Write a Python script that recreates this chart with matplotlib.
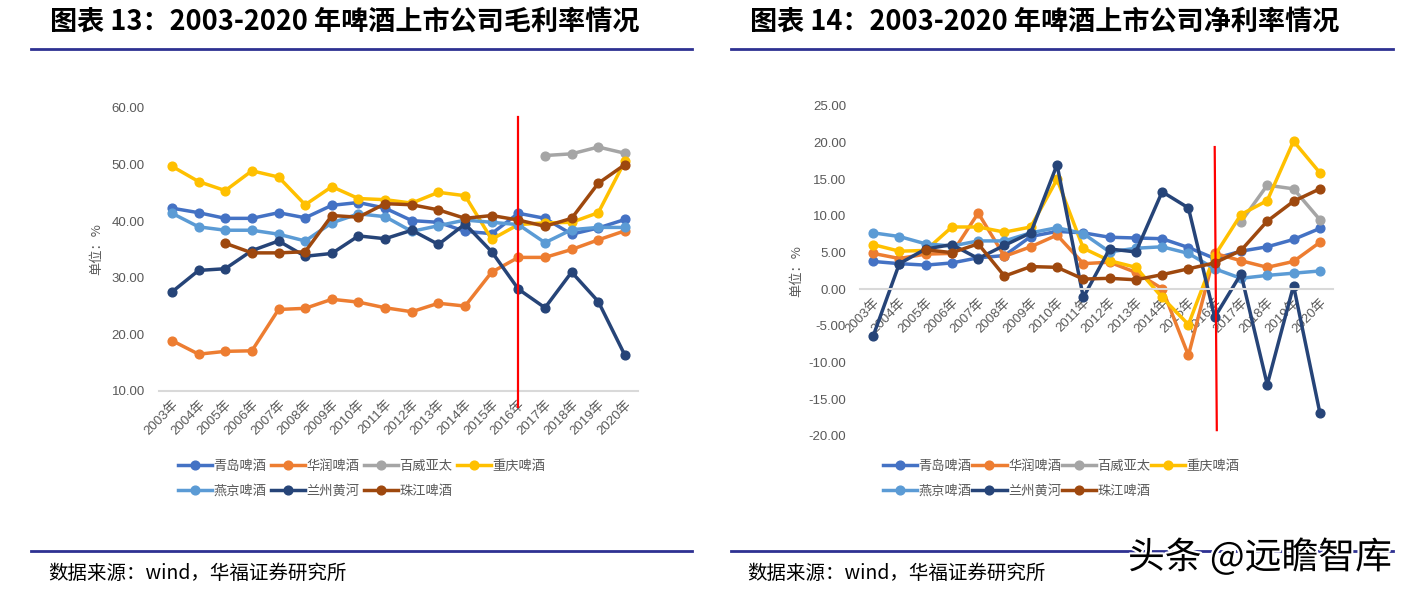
import numpy as np
import matplotlib
matplotlib.use("Agg")
from matplotlib import pyplot as plt
from matplotlib.lines import Line2D
import matplotlib.patheffects as pe

plt.rcParams['font.family'] = ['Liberation Sans', 'Noto Sans CJK SC']

years = [str(y) + "年" for y in range(2003, 2021)]
names = ["青岛啤酒", "华润啤酒", "百威亚太", "重庆啤酒", "燕京啤酒", "兰州黄河", "珠江啤酒"]
colors = ["#4472C4", "#ED7D31", "#A5A5A5", "#FFC000", "#5B9BD5", "#264478", "#9E480E"]
nan = np.nan

# gross margin (%)
gross_qingdao = [42.3, 41.5, 40.5, 40.5, 41.5, 40.6, 42.8, 43.3, 42.3, 40.1, 39.8, 38.2, 37.8, 41.4, 40.5, 37.7, 38.8, 40.3]
gross_huarun = [18.9, 16.5, 17.0, 17.1, 24.4, 24.6, 26.2, 25.7, 24.7, 24.0, 25.5, 25.0, 31.0, 33.6, 33.6, 35.0, 36.7, 38.3]
gross_baiwei = [nan] * 14 + [51.6, 51.9, 53.1, 52.0]
gross_chongqing = [49.7, 47.0, 45.4, 48.9, 47.8, 42.9, 46.1, 44.0, 43.8, 43.2, 45.1, 44.5, 36.8, 39.4, 39.7, 39.8, 41.5, 50.6]
gross_yanjing = [41.4, 39.0, 38.4, 38.4, 37.7, 36.5, 39.7, 41.3, 40.8, 38.2, 39.2, 40.2, 39.8, 39.4, 36.2, 38.5, 38.9, 38.9]
gross_lanzhou = [27.5, 31.3, 31.6, 34.8, 36.5, 33.8, 34.3, 37.4, 36.9, 38.4, 35.9, 39.5, 34.6, 28.0, 24.7, 31.0, 25.8, 16.3]
gross_zhujiang = [nan, nan, 36.1, 34.4, 34.4, 34.6, 41.0, 40.7, 43.1, 42.9, 42.0, 40.5, 41.0, 40.2, 39.1, 40.5, 46.7, 50.0]

# net margin (%)
net_qingdao = [3.8, 3.5, 3.3, 3.6, 4.3, 4.6, 7.2, 7.9, 7.7, 7.1, 7.0, 6.9, 5.7, 4.2, 5.2, 5.8, 6.8, 8.3]
net_huarun = [4.9, 4.2, 4.8, 4.9, 10.4, 4.5, 5.8, 7.4, 3.5, 3.7, 2.3, 0.1, -9.0, 4.9, 3.9, 3.0, 3.8, 6.4]
net_baiwei = [nan] * 14 + [9.2, 14.2, 13.7, 9.5]
net_chongqing = [6.1, 5.2, 5.3, 8.5, 8.5, 7.8, 8.5, 15.0, 5.6, 3.9, 3.0, -1.1, -4.8, 4.6, 10.2, 12.1, 20.2, 15.9]
net_yanjing = [7.7, 7.2, 6.2, 5.9, 6.6, 6.6, 7.7, 8.4, 7.6, 5.1, 5.6, 5.8, 4.9, 2.8, 1.5, 1.9, 2.2, 2.5]
net_lanzhou = [-6.4, 3.5, 5.5, 6.1, 4.2, 6.0, 7.7, 17.0, -1.1, 5.5, 5.1, 13.3, 11.1, -3.8, 2.1, -13.0, 0.5, -16.8]
net_zhujiang = [nan, nan, 5.4, 5.0, 6.2, 1.8, 3.1, 3.0, 1.4, 1.5, 1.3, 2.0, 2.8, 3.6, 5.3, 9.3, 12.0, 13.7]

gross = [gross_qingdao, gross_huarun, gross_baiwei, gross_chongqing, gross_yanjing, gross_lanzhou, gross_zhujiang]
net = [net_qingdao, net_huarun, net_baiwei, net_chongqing, net_yanjing, net_lanzhou, net_zhujiang]

gray_txt = "#595959"
rule_color = "#2E3192"

fig = plt.figure(figsize=(14.04, 5.94), dpi=100)


def draw_chart(ax, series, ylim, yticks, base):
    x = np.arange(len(years))
    for s in ['top', 'right', 'left']:
        ax.spines[s].set_visible(False)
    ax.spines['bottom'].set_position(('data', base))   # must come before tick labels
    ax.spines['bottom'].set_color("#D9D9D9")
    ax.spines['bottom'].set_linewidth(1.5)
    for vals, c in zip(series, colors):
        ax.plot(x, vals, color=c, lw=2.5, marker='o', ms=6.3, solid_capstyle='round')
    ax.set_xlim(-0.5, len(years) - 0.5)
    ax.set_ylim(*ylim)
    ax.set_yticks(yticks)
    ax.set_yticklabels(["%.2f" % v for v in yticks], fontsize=9.5, color=gray_txt)
    ax.set_xticks(x)
    ax.set_xticklabels(years, rotation=45, ha='right', va='top', rotation_mode='anchor',
                       fontsize=9.5, color=gray_txt)
    ax.tick_params(axis='both', length=0)
    ax.tick_params(axis='y', pad=10)
    ax.tick_params(axis='x', pad=5)
    ax.set_ylabel("单位：%", fontsize=9.5, color=gray_txt, family=['Noto Sans CJK SC'])
    ax.patch.set_alpha(0)


ax1 = fig.add_axes([0.1130, 0.3418, 0.3416, 0.4764])
draw_chart(ax1, gross, (10, 60), [10, 20, 30, 40, 50, 60], 10)
ax1.yaxis.set_label_coords(-0.115, 0.5)
ax1.plot([13, 13], [58.4, 7.2], color="red", lw=1.6, clip_on=False, zorder=5)

ax2 = fig.add_axes([0.6125, 0.2660, 0.3369, 0.5556])
draw_chart(ax2, net, (-20, 25), [-20, -15, -10, -5, 0, 5, 10, 15, 20, 25], 0)
ax2.yaxis.set_label_coords(-0.12, 0.5)
ax2.plot([13, 13.08], [19.4, -19.2], color="red", lw=1.6, clip_on=False, zorder=5)

# legends, row-wise order
order = [0, 4, 1, 5, 2, 6, 3]
handles = [Line2D([], [], color=colors[i], lw=2.5, marker='o', ms=6.3) for i in order]
labels = [names[i] for i in order]
for xa, cs in [(178, 0.32), (883, 0.05)]:
    fig.legend(handles, labels, loc='upper left', bbox_to_anchor=(xa / 1404, 1 - 460 / 594),
               ncol=4, frameon=False, borderpad=0, borderaxespad=0, handlelength=2.6,
               handletextpad=0.1, columnspacing=cs, labelspacing=0.9,
               prop={'family': ['Noto Sans CJK SC'], 'size': 9.5}, labelcolor=gray_txt)

# titles and rules
fig.text(50 / 1404, 1 - 22 / 594, "图表 13：2003-2020 年啤酒上市公司毛利率情况", fontsize=19.5,
         fontweight='bold', family=['Noto Sans CJK SC'], va='center', ha='left')
fig.text(750 / 1404, 1 - 22 / 594, "图表 14：2003-2020 年啤酒上市公司净利率情况", fontsize=19.5,
         fontweight='bold', family=['Noto Sans CJK SC'], va='center', ha='left')
for y in [49, 550.5]:
    fig.add_artist(Line2D([31 / 1404, 692 / 1404], [1 - y / 594] * 2, color=rule_color, lw=2))
    fig.add_artist(Line2D([731 / 1404, 1393 / 1404], [1 - y / 594] * 2, color=rule_color, lw=2))

for xs in [48, 747]:
    fig.text(xs / 1404, 1 - 573 / 594, "数据来源：wind，华福证券研究所", fontsize=14,
             family=['Noto Sans CJK SC', 'Liberation Sans'], va='center', ha='left')

fig.text(1128 / 1404, 1 - 558 / 594, "头条 @远瞻智库", fontsize=26.5, family=['Noto Sans CJK SC'],
         va='center', ha='left', color='black',
         path_effects=[pe.withStroke(linewidth=3, foreground='white')])

fig.savefig("out.png", dpi=100)
